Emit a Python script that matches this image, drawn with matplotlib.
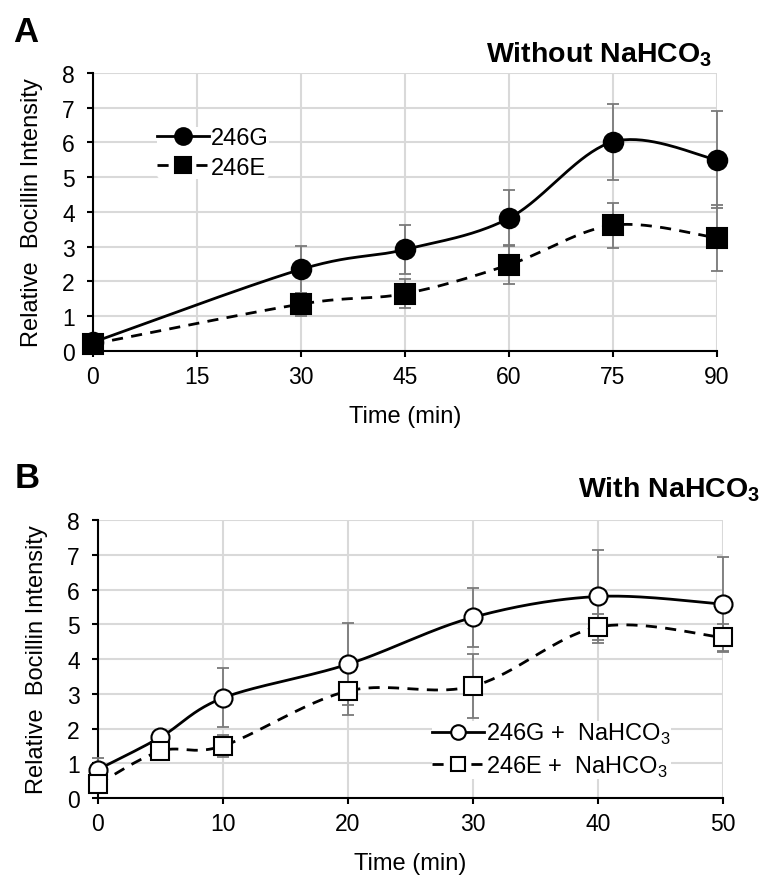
import numpy as np
import matplotlib
matplotlib.use("Agg")
import matplotlib.pyplot as plt
from matplotlib import font_manager

names = {f.name for f in font_manager.fontManager.ttflist}
base = "Liberation Sans" if "Liberation Sans" in names else "DejaVu Sans"
plt.rcParams['font.family'] = [base, 'DejaVu Sans']
plt.rcParams['mathtext.fontset'] = 'custom'
plt.rcParams['mathtext.rm'] = base
plt.rcParams['mathtext.bf'] = base + ':bold'

# ---- Data: panel A (without NaHCO3) ----
time_a = [0, 30, 45, 60, 75, 90]
g_a = [0.25, 2.35, 2.92, 3.82, 6.02, 5.50]
g_a_err = [0.05, 0.68, 0.70, 0.80, 1.10, 1.40]
e_a = [0.20, 1.35, 1.65, 2.48, 3.62, 3.25]
e_a_err = [0.05, 0.33, 0.42, 0.56, 0.65, 0.95]
xticks_a = [0, 15, 30, 45, 60, 75, 90]

# ---- Data: panel B (with NaHCO3) ----
time_b = [0, 5, 10, 20, 30, 40, 50]
g_b = [0.82, 1.75, 2.88, 3.85, 5.20, 5.80, 5.58]
g_b_err = [0.33, 0.05, 0.85, 1.18, 0.85, 1.35, 1.37]
e_b = [0.40, 1.35, 1.50, 3.08, 3.22, 4.92, 4.62]
e_b_err = [0.10, 0.10, 0.32, 0.70, 0.92, 0.38, 0.38]
xticks_b = [0, 10, 20, 30, 40, 50]

yticks = list(range(0, 9))


def smooth(x, y, n=40):
    P = np.column_stack([x, y]).astype(float)
    ext = np.vstack([P[0], P, P[-1]])
    t = np.linspace(0, 1, n)[:, None]
    segs = []
    for i in range(len(P) - 1):
        p0, p1, p2, p3 = ext[i], ext[i + 1], ext[i + 2], ext[i + 3]
        c1 = p1 + (p2 - p0) / 6.0
        c2 = p2 - (p3 - p1) / 6.0
        b = ((1 - t) ** 3) * p1 + 3 * ((1 - t) ** 2) * t * c1 + 3 * (1 - t) * t ** 2 * c2 + t ** 3 * p2
        segs.append(b if i == 0 else b[1:])
    s = np.vstack(segs)
    return s[:, 0], s[:, 1]


fig = plt.figure(figsize=(7.66, 8.87), dpi=100)
axA = fig.add_axes([0.1214, 0.6032, 0.8146, 0.3134])
axB = fig.add_axes([0.1279, 0.0992, 0.8159, 0.3134])

ERR = '#7a7a7a'
GRID = '#d9d9d9'


def style(ax, xticks, xmax):
    ax.set_xlim(0, xmax)
    ax.set_ylim(0, 8)
    ax.set_xticks(xticks)
    ax.set_yticks(yticks)
    ax.grid(True, color=GRID, lw=1.5)
    ax.set_axisbelow(True)
    for s in ['top', 'right']:
        ax.spines[s].set_visible(False)
    for s in ['left', 'bottom']:
        ax.spines[s].set_linewidth(1.5)
    ax.tick_params(axis='both', labelsize=16.5, width=1.5, length=4, direction='out')
    ax.tick_params(axis='x', pad=6)
    ax.tick_params(axis='y', pad=9)
    ax.set_xlabel('Time (min)', fontsize=17, labelpad=12)
    ax.set_ylabel('Relative  Bocillin Intensity', fontsize=17, labelpad=14)


def series(ax, x, y, err, ls, marker, filled, label):
    ax.errorbar(x, y, yerr=err, fmt='none', ecolor=ERR, elinewidth=1.3,
                capsize=4, capthick=1.3, zorder=3, clip_on=False)
    sx, sy = smooth(x, y)
    ln, = ax.plot(sx, sy, color='black', lw=2, ls=ls, zorder=4, clip_on=False)
    if ls == '--':
        ln.set_dashes((4, 3))
    ms = 14 if filled else 13
    ax.plot(x, y, ls='none', marker=marker, ms=ms,
            mfc='black' if filled else 'white', mec='black', mew=1.5,
            zorder=5, clip_on=False)
    h, = ax.plot([], [], color='black', lw=2, ls=ls, marker=marker,
                 ms=12 if filled else 10.5,
                 mfc='black' if filled else 'white', mec='black', mew=1.5,
                 label=label)
    if ls == '--':
        h.set_dashes((4, 3))
    return h


style(axA, xticks_a, 90)
hA1 = series(axA, time_a, g_a, g_a_err, '-', 'o', True, '246G')
hA2 = series(axA, time_a, e_a, e_a_err, '--', 's', True, '246E')
axA.legend(handles=[hA1, hA2], loc='center left', bbox_to_anchor=(0.1026, 0.712),
           frameon=True, facecolor='white', edgecolor='none', framealpha=1,
           fontsize=17, handlelength=2.2, handletextpad=0.1, labelspacing=0.3,
           borderpad=0.0, borderaxespad=0.0)

style(axB, xticks_b, 50)
hB1 = series(axB, time_b, g_b, g_b_err, '-', 'o', False, r'246G +  NaHCO$_3$')
hB2 = series(axB, time_b, e_b, e_b_err, '--', 's', False, r'246E +  NaHCO$_3$')
axB.legend(handles=[hB1, hB2], loc='center left', bbox_to_anchor=(0.534, 0.173),
           frameon=True, facecolor='white', edgecolor='none', framealpha=1,
           fontsize=17, handlelength=2.2, handletextpad=0.1, labelspacing=0.3,
           borderpad=0.0, borderaxespad=0.0)

fig.text(0.017, 0.9526, 'A', fontsize=25, fontweight='bold', va='baseline', ha='left')
fig.text(0.019, 0.4498, 'B', fontsize=25, fontweight='bold', va='baseline', ha='left')
fig.text(0.9295, 0.9301, r'Without NaHCO$_\mathbf{3}$', fontsize=20.5, fontweight='bold',
         ha='right', va='baseline')
fig.text(0.9922, 0.4397, r'With NaHCO$_\mathbf{3}$', fontsize=20.5, fontweight='bold',
         ha='right', va='baseline')

fig.savefig('out.png', dpi=100)
